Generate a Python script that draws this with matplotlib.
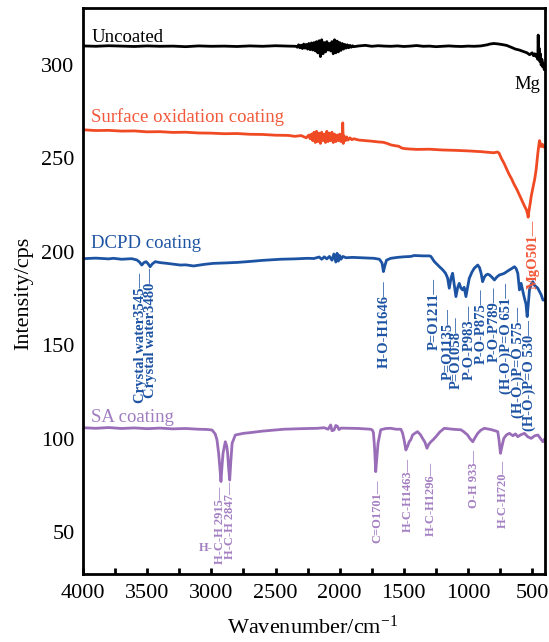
import matplotlib
matplotlib.use('Agg')
import matplotlib.pyplot as plt
from matplotlib.ticker import MultipleLocator

plt.rcParams['font.family'] = ['Liberation Serif', 'DejaVu Serif']
plt.rcParams['mathtext.fontset'] = 'custom'
plt.rcParams['mathtext.rm'] = 'Liberation Serif'
plt.rcParams['mathtext.it'] = 'Liberation Serif:italic'

# ---------------- data (wavenumber, intensity) ----------------
uncoated = [(4000,310.2),(3900,310.0),(3800,310.3),(3700,310.1),(3600,309.9),(3500,310.2),(3400,310.0),(3300,310.1),
 (3200,309.8),(3100,310.2),(3000,310.0),(2900,310.1),(2800,309.9),(2700,310.2),(2600,310.0),(2500,310.3),(2400,310.1),
 (2340,310.0),(2330,309.5),(2320,310.8),(2310,309.2),(2300,310.6),(2290,308.8),(2280,311.2),(2270,309.0),(2260,311.0),
 (2250,308.5),(2240,311.5),(2230,308.2),(2220,311.8),(2210,308.0),(2200,312.0),(2190,307.5),(2180,312.5),(2170,306.5),
 (2160,313.0),(2150,304.5),(2140,313.5),(2130,306.0),(2120,312.0),(2110,307.0),(2100,312.5),(2090,308.0),(2080,311.5),
 (2070,307.5),(2060,312.5),(2050,306.0),(2040,313.5),(2030,306.5),(2020,312.8),(2010,307.0),(2000,312.0),(1990,307.8),
 (1980,311.5),(1970,308.5),(1960,311.0),(1950,309.0),(1940,310.8),(1930,309.2),(1920,310.5),(1910,309.5),(1900,310.3),
 (1890,309.8),(1850,310.2),(1800,310.5),(1750,310.0),(1700,310.3),(1650,310.1),(1600,310.0),(1550,310.2),(1500,309.9),
 (1450,310.1),(1400,310.4),(1350,310.0),(1300,310.1),(1250,309.8),(1200,310.0),(1150,310.2),(1100,310.0),(1050,309.9),
 (1000,310.1),(950,310.0),(900,310.2),(850,310.8),(830,311.2),(800,311.5),(770,311.3),(740,311.0),(700,310.5),
 (664,309.5),(630,308.5),(600,308.0),(580,307.5),(560,307.0),(540,306.5),(520,305.5),(500,306.5),(490,305.0),
 (480,306.0),(470,304.5),(462,305.5),(456,303.0),(453,316.0),(450,304.0),(446,309.0),(442,302.0),(436,306.0),
 (430,300.0),(424,303.0),(418,299.0),(412,301.0),(406,297.5),(400,298.5)]

oxidation = [(4000,265.3),(3900,264.9),(3800,265.0),(3700,264.6),(3600,264.7),(3500,264.2),(3400,264.3),(3300,263.9),
 (3200,264.0),(3100,263.6),(3000,263.5),(2900,263.2),(2800,263.3),(2700,262.9),(2600,262.8),(2500,262.4),(2400,262.3),
 (2350,261.8),(2300,262.2),(2260,261.0),(2240,262.5),(2230,260.5),(2220,263.0),(2210,259.5),(2200,264.0),(2190,258.5),
 (2180,264.5),(2170,259.0),(2160,263.5),(2150,258.0),(2140,264.0),(2130,259.5),(2120,263.0),(2110,258.5),(2100,264.5),
 (2090,259.0),(2080,263.5),(2070,259.5),(2060,264.0),(2050,258.5),(2040,263.0),(2030,259.0),(2020,262.5),(2010,259.5),
 (2000,263.0),(1990,259.0),(1980,262.5),(1976,269.0),(1972,258.0),(1965,262.0),(1955,259.5),(1945,261.5),(1935,259.8),
 (1920,261.0),(1905,260.0),(1890,260.5),(1850,259.8),(1800,259.5),(1750,259.2),(1700,258.8),(1660,258.6),(1630,258.0),
 (1600,257.2),(1570,256.8),(1540,256.5),(1515,255.5),(1490,255.2),(1450,255.0),(1400,254.8),(1300,254.9),(1200,254.5),
 (1100,254.3),(1000,254.0),(900,253.6),(850,253.3),(800,253.0),(770,253.4),(758,252.8),(740,250.0),(720,247.5),
 (700,244.5),(680,241.5),(660,239.0),(640,236.0),(620,233.5),(600,230.5),(580,227.5),(560,224.5),(545,222.5),
 (535,220.0),(531,218.5),(525,222.0),(515,226.0),(508,229.5),(495,234.0),(480,239.0),(469,244.0),(460,250.0),
 (456,252.7),(448,257.0),(443,259.5),(436,258.0),(430,256.3),(420,257.5),(410,256.0),(400,256.3)]

dcpd = [(4000,196.3),(3900,196.6),(3800,196.2),(3763,196.5),(3700,196.0),(3620,196.3),(3580,195.6),(3560,194.5),
 (3542,192.9),(3525,194.2),(3508,194.7),(3492,193.5),(3477,192.0),(3460,193.5),(3437,194.7),(3400,194.2),(3346,193.8),
 (3300,193.4),(3242,192.9),(3200,193.0),(3138,192.4),(3100,192.8),(3050,193.3),(2982,193.8),(2900,194.0),(2800,194.3),
 (2721,194.7),(2600,195.4),(2461,196.0),(2350,196.2),(2250,196.5),(2200,196.4),(2160,197.2),(2140,196.0),(2120,197.3),
 (2100,196.2),(2080,197.5),(2060,195.5),(2045,198.8),(2030,194.5),(2020,199.2),(2010,195.0),(2000,198.0),(1990,196.0),
 (1975,197.5),(1950,196.8),(1900,197.0),(1800,196.7),(1732,196.5),(1690,196.0),(1670,194.0),(1659,189.4),(1648,192.5),
 (1635,195.5),(1602,196.5),(1550,197.0),(1500,197.3),(1445,197.5),(1419,198.0),(1350,197.8),(1300,197.8),(1289,197.5),
 (1263,194.8),(1224,192.1),(1198,190.4),(1175,188.5),(1159,186.0),(1146,180.5),(1132,186.0),(1120,188.5),(1094,176.0),
 (1080,181.0),(1068,183.1),(1055,180.5),(1042,179.6),(1030,181.0),(1016,176.0),(1003,181.0),(990,185.8),(970,189.0),
 (951,191.2),(924,192.9),(910,191.5),(898,188.5),(886,184.0),(872,186.5),(859,187.6),(846,188.0),(833,187.6),
 (815,186.5),(794,184.9),(775,186.5),(755,187.6),(735,188.0),(716,188.5),(695,189.5),(677,190.3),(660,191.0),
 (638,192.0),(625,191.0),(612,188.5),(599,179.6),(586,183.1),(573,179.0),(560,175.1),(548,172.0),(539,165.3),
 (530,172.0),(521,179.6),(508,182.5),(495,184.0),(482,182.0),(469,181.3),(456,180.5),(443,178.7),(430,177.0),
 (416,174.2),(400,174.0)]

sa = [(4000,105.8),(3900,105.5),(3800,105.9),(3700,105.4),(3600,105.7),(3500,105.3),(3400,105.6),(3300,105.2),
 (3200,105.4),(3100,105.0),(3040,104.9),(2995,104.6),(2970,102.5),(2956,99.3),(2943,92.1),(2933,84.0),(2925,77.0),
 (2917,85.0),(2909,92.1),(2891,98.3),(2880,96.0),(2873,92.1),(2865,84.0),(2857,77.8),(2848,88.0),(2838,97.5),
 (2813,101.9),(2750,102.8),(2695,103.2),(2600,104.0),(2500,104.6),(2435,105.0),(2300,105.3),(2174,105.5),(2120,105.8),
 (2090,105.0),(2070,107.3),(2060,104.2),(2044,104.6),(2030,107.0),(2018,106.6),(2005,104.8),(1990,105.6),(1914,105.5),
 (1850,105.4),(1758,105.0),(1745,104.5),(1737,103.2),(1728,95.0),(1719,82.3),(1710,90.0),(1701,97.5),(1680,104.7),
 (1640,105.4),(1602,105.5),(1560,105.0),(1523,105.0),(1510,103.0),(1498,99.3),(1484,93.9),(1470,96.0),(1458,98.3),
 (1445,99.5),(1432,101.9),(1410,103.0),(1393,103.7),(1370,102.0),(1354,100.1),(1335,98.0),(1320,94.8),(1305,97.0),
 (1289,98.3),(1270,99.5),(1250,101.0),(1220,103.5),(1185,105.5),(1120,105.0),(1055,104.7),(1030,103.5),(1003,101.9),
 (985,100.0),(963,98.3),(945,100.5),(924,102.8),(900,104.5),(872,105.5),(820,104.8),(790,104.2),(768,103.7),
 (758,99.0),(747,92.1),(735,96.0),(721,100.1),(700,102.0),(677,102.8),(650,101.5),(630,102.5),(612,101.0),
 (590,102.0),(560,102.8),(535,101.0),(508,100.1),(480,101.5),(455,101.9),(435,100.0),(416,98.3),(400,100.0)]

series_names = ["Uncoated", "Surface oxidation coating", "DCPD coating", "SA coating"]

# peak annotations: (text, wavenumber position, top value)
dcpd_peaks = [("Crystal water3545\u2014", 3555, 188.7), ("Crystal water3480\u2014", 3477, 191.3),
              ("H-O-H1646\u2014", 1656, 184.9), ("P=O1211\u2014", 1266, 186.0), ("P=O1135\u2014", 1156, 170.0),
              ("P=O1058\u2014", 1094, 165.2), ("P-O-P983\u2014", 992, 171.5), ("P-O-P875\u2014", 898, 180.6),
              ("P-O-P789\u2014", 797, 181.2), ("(H-O-)P=O 651\u2014", 703, 183.3),
              ("(H-O-)P=O 575\u2014", 609, 170.5), ("(H-O-)P=O 530\u2014", 523, 163.5)]
ox_peaks = [("MgO501\u2014", 494, 217.0)]
sa_peaks = [("H-C-H 2915\u2014", 2930, 74.1), ("H-C-H 2847\u2014", 2852, 76.8), ("C=O1701\u2014", 1703, 77.8),
            ("H-C-H1463\u2014", 1469, 89.6), ("H-C-H1296\u2014", 1289, 87.5), ("O-H 933\u2014", 953, 93.9),
            ("H-C-H720\u2014", 727, 88.5)]

# ---------------- figure ----------------
W, H = 549, 642
fig = plt.figure(figsize=(W / 100, H / 100), dpi=100)
ax = fig.add_axes([83 / W, 1 - 574 / H, (545 - 83) / W, (574 - 8) / H])

c_black = '#000000'
c_red = '#F04A24'
c_blue = '#1D53A3'
c_purple = '#9A6DB8'

for data, col in [(uncoated, c_black), (oxidation, c_red), (dcpd, c_blue), (sa, c_purple)]:
    xs, ys = zip(*data)
    ax.plot(xs, ys, color=col, lw=2.0, solid_joinstyle='round')

ax.set_xlim(4000, 400)
ax.set_ylim(27.5, 330.5)

# series labels
ax.text(3935, 312.3, series_names[0], color=c_black, fontsize=13.5, va='baseline', ha='left')
ax.text(3935, 269.6, series_names[1], color='#F2583A', fontsize=13.5, va='baseline', ha='left')
ax.text(3935, 202.0, series_names[2], color=c_blue, fontsize=13.5, va='baseline', ha='left')
ax.text(3935, 109.0, series_names[3], color='#A07CC0', fontsize=13.5, va='baseline', ha='left')
ax.text(437, 287.0, "Mg", color=c_black, fontsize=13.5, va='baseline', ha='right')

for s, x, y in dcpd_peaks:
    ax.text(x, y, s, rotation=90, ha='center', va='top', fontsize=10.5, color=c_blue, fontweight='bold')
for s, x, y in ox_peaks:
    ax.text(x, y, s, rotation=90, ha='center', va='top', fontsize=10.5, color='#F2583A', fontweight='bold')
for s, x, y in sa_peaks:
    ax.text(x, y, s, rotation=90, ha='center', va='top', fontsize=9, color='#A47FC2', fontweight='bold')
ax.text(3047, 41.4, "H-", ha='center', va='center', fontsize=9, color='#A47FC2', fontweight='bold')

# axes styling
for sp in ax.spines.values():
    sp.set_linewidth(2.0)
ax.xaxis.set_major_locator(MultipleLocator(500))
ax.xaxis.set_minor_locator(MultipleLocator(250))
ax.tick_params(axis='x', which='both', direction='in', length=4, width=2, pad=7, labelsize=16, top=False)
ax.set_yticks([50, 100, 150, 200, 250, 300])
ax.tick_params(axis='y', which='both', length=0, pad=6, labelsize=16)

fig.text(24 / W, 1 - 293 / H, "Intensity/cps", rotation=90, ha='center', va='center', fontsize=16)
fig.text(313 / W, 1 - 634 / H, "Wavenumber/cm$^{-1}$", ha='center', va='baseline', fontsize=16)

fig.savefig('out.png', dpi=100)
